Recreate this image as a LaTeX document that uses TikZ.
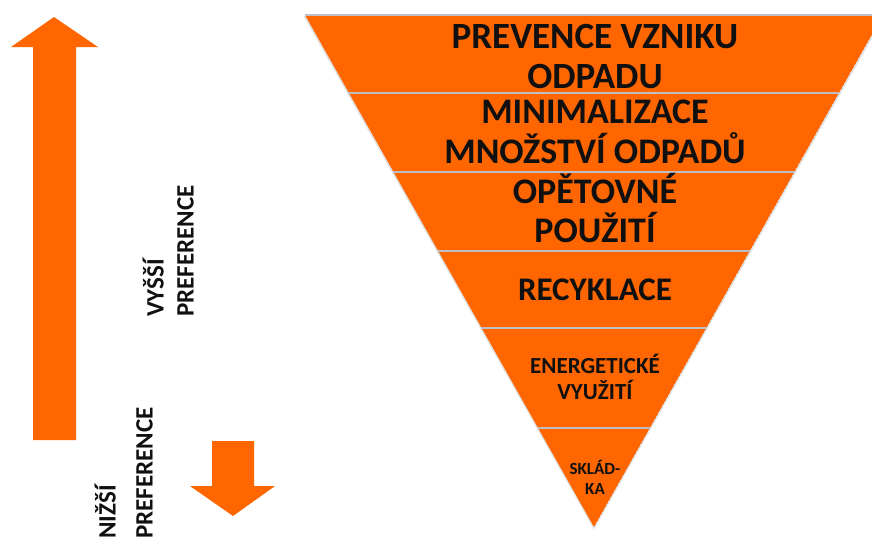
\documentclass[tikz,border=0pt]{standalone}
\usepackage{fontspec}
\setmainfont{Carlito}
\usetikzlibrary{calc}

\definecolor{wasteorange}{HTML}{FF6600}
\definecolor{bandgray}{HTML}{BDBEC6}
\definecolor{labelblack}{HTML}{101010}

\def\bandw{1.8}

\tikzset{
  bandtext/.style={text=labelblack, align=center, inner sep=0pt, anchor=base},
  preftext/.style={text=labelblack, rotate=90, align=left, inner sep=0pt, anchor=south west},
  blockarrow/.style={fill=wasteorange, draw=none},
}

\begin{document}
\begin{tikzpicture}[x=1pt,y=-1pt]
        \useasboundingbox (0,0) rectangle (872,542);
        \begin{scope}
        \clip (0,0) rectangle (872,542);
        % big arrow up
        \fill[blockarrow] (33,440) -- (33,47) -- (11,47) -- (54,17) -- (98,47) -- (76,47) -- (76,440) -- cycle;
        % small arrow down
        \fill[blockarrow] (212,441) -- (254,441) -- (254,486) -- (275,486) -- (233,516) -- (190,486) -- (212,486) -- cycle;
        % preference labels
        \node[preftext, font=\bfseries\fontsize{25}{30}\selectfont] (vyssi) at (194,317) {VYŠŠÍ\\PREFERENCE};
        \node[preftext, font=\bfseries\fontsize{25}{37}\selectfont] (nizsi) at (153,539) {NIŽŠÍ\\PREFERENCE};
        % inverted pyramid
        \coordinate (tl) at (305,15);
        \coordinate (tr) at (883,15);
        \coordinate (apex) at (594,527);
        \fill[black!12] ($(tl)+(-1.5,1)$) -- ($(tr)+(1.5,1)$) -- ($(apex)+(0,2.5)$) -- cycle;
        \begin{scope}
            \clip (tl) -- (tr) -- (apex) -- cycle;
            \fill[wasteorange] (tl) -- (tr) -- (apex) -- cycle;
            % band borders
            \foreach \y in {93,172,251,328,428}
                \draw[bandgray, line width=\bandw pt] (290,\y) -- (890,\y);
        \end{scope}
        \draw[bandgray, line width=1.2pt] (tl) -- (tr);
        % band labels
        \node[bandtext, font=\bfseries\fontsize{37}{40}\selectfont] (prevence) at (595,88) {PREVENCE VZNIKU\\ODPADU};
        \node[bandtext, font=\bfseries\fontsize{36}{40}\selectfont] (minimal) at (595,163) {MINIMALIZACE\\MNOŽSTVÍ ODPADŮ};
        \node[bandtext, font=\bfseries\fontsize{36}{39}\selectfont] (opetovne) at (595,242) {OPĚTOVNÉ\\POUŽITÍ};
        \node[bandtext, font=\bfseries\fontsize{33}{38}\selectfont] (recyklace) at (595,300) {RECYKLACE};
        \node[bandtext, font=\bfseries\fontsize{23}{26}\selectfont] (energie) at (595,399) {ENERGETICKÉ\\VYUŽITÍ};
        \node[bandtext, font=\bfseries\fontsize{17}{20}\selectfont] (skladka) at (595,494) {SKLÁD-\\KA};
        \end{scope}
    \end{tikzpicture}
\end{document}
